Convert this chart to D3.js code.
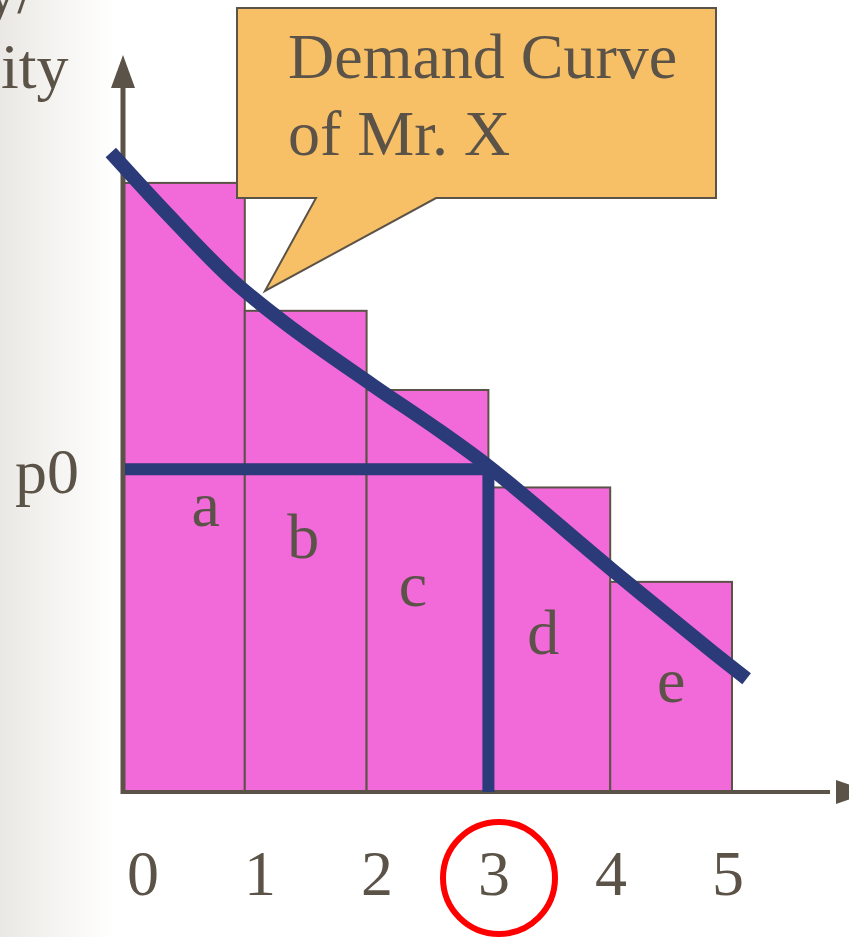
<!DOCTYPE html>
<html>
<head>
<meta charset="utf-8">
<script src="https://cdn.jsdelivr.net/npm/d3@7/dist/d3.min.js"></script>
<style>
  html, body { margin: 0; padding: 0; background: #fff; }
  svg { display: block; }
  text { font-family: "Liberation Serif", "Times New Roman", serif; fill: #5C5348; }
</style>
</head>
<body>
<div id="chart"></div>
<script>
// Demand curve of Mr. X, willingness to pay for each unit

var quantity = [1, 2, 3, 4, 5];
var areaLabels = ["a", "b", "c", "d", "e"];
var price = [100, 79, 66, 50, 34.5];
var tickLabels = ["0", "1", "2", "3", "4", "5"];
var p0 = 53, q0 = 3;
var curveQ = [-0.1, 0.36, 0.9, 1.35, 2.05, 2.6, 3.03, 4.02, 4.84, 5.12];
var curveP = [105, 95, 84, 76.7, 66.8, 59.3, 53, 36.4, 23, 18.6];
var calloutLines = ["Demand Curve", "of Mr. X"];
var axisLabelLines = ["y/", "ity"];

var width = 849, height = 937;
var ink = "#5C5348", navy = "#2B3A78", pink = "#F26AD9";

var svg = d3.select("#chart")
  .append("svg")
    .attr("width", width)
    .attr("height", height);

// Set the ranges
var x = d3.scaleLinear()
    .domain([0, 5])
    .range([123, 732]);
var y = d3.scaleLinear()
    .domain([0, 121])
    .range([792, 55]);
// the quantity numbers under the axis are spaced a bit differently
var xTick = d3.scalePoint()
    .domain(tickLabels)
    .range([143, 728]);

// slide background fades in from the left
var grad = svg.append("defs").append("linearGradient")
    .attr("id", "fade")
    .attr("x1", 0).attr("x2", 1).attr("y1", 0).attr("y2", 0);
grad.append("stop").attr("offset", 0).attr("stop-color", "#EAE8E4");
grad.append("stop").attr("offset", 0.4).attr("stop-color", "#F3F2EF");
grad.append("stop").attr("offset", 1).attr("stop-color", "#FFFFFF");
svg.append("rect")
    .attr("x", 0).attr("y", 0)
    .attr("width", 115).attr("height", height)
    .attr("fill", "url(#fade)");

// cut off y axis title
svg.selectAll(".axis-title")
    .data(axisLabelLines)
  .enter().append("text")
    .attr("class", "axis-title")
    .attr("x", function(d, i) { return i == 0 ? 35 : 1; })
    .attr("y", function(d, i) { return 13 + i * 75; })
    .attr("text-anchor", function(d, i) { return i == 0 ? "end" : "start"; })
    .style("font-size", "64px")
    .text(function(d) { return d; });

// bars, one per unit
svg.selectAll(".bar")
    .data(quantity)
  .enter().append("rect")
    .attr("class", "bar")
    .attr("x", function(d) { return x(d - 1); })
    .attr("y", function(d, i) { return y(price[i]); })
    .attr("width", function(d) { return x(d) - x(d - 1); })
    .attr("height", function(d, i) { return y(0) - y(price[i]); })
    .attr("fill", pink)
    .attr("stroke", ink)
    .attr("stroke-width", 2);

// area letters inside the bars
var letterPos = [[0.68, 43.7], [1.48, 38.4], [2.38, 30.5], [3.45, 22.7], [4.5, 14.8]];
svg.selectAll(".area-label")
    .data(areaLabels)
  .enter().append("text")
    .attr("class", "area-label")
    .attr("x", function(d, i) { return x(letterPos[i][0]); })
    .attr("y", function(d, i) { return y(letterPos[i][1]); })
    .attr("text-anchor", "middle")
    .style("font-size", "64px")
    .text(function(d) { return d; });

// axes with arrow heads
svg.append("line")
    .attr("x1", x(0)).attr("x2", x(0))
    .attr("y1", y(121) + 20).attr("y2", y(0) + 2)
    .attr("stroke", ink).attr("stroke-width", 5);
svg.append("path")
    .attr("d", "M" + x(0) + "," + y(121) + "l-12,33l24,0z")
    .attr("fill", ink);
svg.append("line")
    .attr("x1", x(0) - 2).attr("x2", 830)
    .attr("y1", y(0)).attr("y2", y(0))
    .attr("stroke", ink).attr("stroke-width", 4);
svg.append("path")
    .attr("d", "M" + 870 + "," + y(0) + "l-34,-12l0,24z")
    .attr("fill", ink);

// p0 and the quantity bought
svg.append("path")
    .attr("d", d3.line()([[x(0) + 2, y(p0)], [x(q0), y(p0)], [x(q0), y(0)]]))
    .attr("fill", "none")
    .attr("stroke", navy)
    .attr("stroke-width", 12);

svg.append("text")
    .attr("x", 79)
    .attr("y", y(p0) + 24)
    .attr("text-anchor", "end")
    .style("font-size", "64px")
    .text("p0");

// demand curve
var curvePts = curveQ.map(function(q, i) { return [x(q), y(curveP[i])]; });
svg.append("path")
    .attr("d", d3.line().curve(d3.curveCatmullRom.alpha(0.5))(curvePts))
    .attr("fill", "none")
    .attr("stroke", navy)
    .attr("stroke-width", 14)
    .attr("stroke-linecap", "butt");

// callout box
svg.append("path")
    .attr("d", "M237,8L716,8L716,198L436,198L265,291L316,198L237,198Z")
    .attr("fill", "#F8C066")
    .attr("stroke", ink)
    .attr("stroke-width", 2);
svg.selectAll(".callout")
    .data(calloutLines)
  .enter().append("text")
    .attr("class", "callout")
    .attr("x", 288)
    .attr("y", function(d, i) { return 78 + i * 77; })
    .style("font-size", "64px")
    .text(function(d) { return d; });

// quantity ticks
svg.selectAll(".tick-label")
    .data(tickLabels)
  .enter().append("text")
    .attr("class", "tick-label")
    .attr("x", function(d) { return xTick(d); })
    .attr("y", 895)
    .attr("text-anchor", "middle")
    .style("font-size", "64px")
    .text(function(d) { return d; });

svg.append("circle")
    .attr("cx", xTick(String(q0)) + 5)
    .attr("cy", 878)
    .attr("r", 56)
    .attr("fill", "none")
    .attr("stroke", "#FF0000")
    .attr("stroke-width", 6);
</script>
</body>
</html>
